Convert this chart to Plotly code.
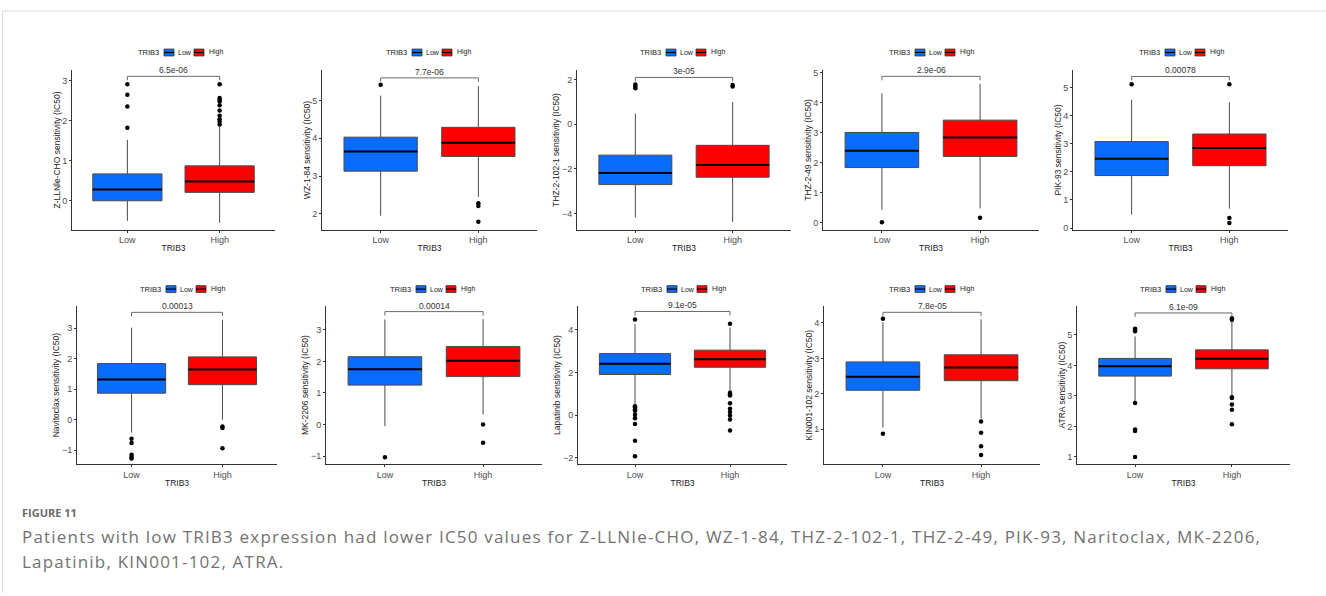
import plotly.graph_objects as go

W, H = 1326, 596

# ---------------- data ----------------
drugs = ["Z-LLNle-CHO", "WZ-1-84", "THZ-2-102-1", "THZ-2-49", "PIK-93",
         "Navitoclax", "MK-2206", "Lapatinib", "KIN001-102", "ATRA"]
p_labels = ["6.5e-06", "7.7e-06", "3e-05", "2.9e-06", "0.00078",
            "0.00013", "0.00014", "9.1e-05", "7.8e-05", "6.1e-09"]
groups = ["Low", "High"]

low_q1 = [0.00, 3.13, -2.70, 1.83, 1.87, 0.87, 1.25, 1.90, 2.10, 3.65]
low_median = [0.28, 3.65, -2.18, 2.39, 2.47, 1.32, 1.75, 2.40, 2.48, 3.97]
low_q3 = [0.67, 4.03, -1.38, 3.00, 3.08, 1.84, 2.15, 2.88, 2.90, 4.23]
low_lower = [-0.50, 1.95, -4.17, 0.42, 0.48, -0.42, -0.05, 0.48, 1.05, 2.80]
low_upper = [1.52, 5.13, 0.48, 4.30, 4.57, 3.02, 3.33, 4.26, 4.02, 4.95]
low_outliers = [
    [1.82, 2.35, 2.64, 2.90],
    [5.42],
    [1.62, 1.70, 1.78],
    [0.01],
    [5.12],
    [-0.62, -0.76, -1.15, -1.22, -1.27],
    [-1.04],
    [4.48, 0.42, 0.36, 0.28, 0.20, 0.02, -0.14, -0.42, -1.20, -1.92],
    [4.12, 0.87],
    [5.12, 5.17, 5.20, 2.77, 1.90, 1.85, 1.00],
]

high_q1 = [0.21, 3.52, -2.37, 2.20, 2.22, 1.15, 1.52, 2.24, 2.37, 3.89]
high_median = [0.48, 3.88, -1.82, 2.83, 2.85, 1.65, 2.02, 2.62, 2.74, 4.22]
high_q3 = [0.87, 4.29, -0.94, 3.41, 3.35, 2.06, 2.47, 3.04, 3.10, 4.51]
high_lower = [-0.55, 2.45, -4.37, 0.47, 0.69, 0.00, 0.32, 1.10, 1.30, 2.98]
high_upper = [1.85, 5.38, 1.00, 4.62, 4.48, 3.27, 3.34, 4.10, 4.10, 5.45]
high_outliers = [
    [1.90, 1.97, 2.03, 2.12, 2.25, 2.38, 2.48, 2.52, 2.56, 2.90],
    [2.28, 2.21, 1.79],
    [1.70, 1.76],
    [0.16],
    [5.12, 0.36, 0.18],
    [-0.22, -0.27, -0.93],
    [0.00, -0.58],
    [4.28, 1.05, 0.98, 0.92, 0.56, 0.30, 0.15, -0.02, -0.20, -0.72],
    [1.22, 0.90, 0.52, 0.27],
    [5.50, 5.55, 2.96, 2.93, 2.72, 2.55, 2.07],
]

bracket_y = [3.10, 5.60, 2.10, 4.87, 5.40, 3.52, 3.58, 4.85, 4.30, 5.72]

caption_title = "FIGURE 11"
caption_lines = [
    "Patients with low TRIB3 expression had lower IC50 values for Z-LLNIe-CHO, WZ-1-84, THZ-2-102-1, THZ-2-49, PIK-93, Naritoclax, MK-2206,",
    "Lapatinib, KIN001-102, ATRA.",
]

# ---------------- layout / style ----------------
y_ranges = [[-0.72, 3.25], [1.58, 5.80], [-4.72, 2.42], [-0.24, 5.07], [-0.06, 5.62],
            [-1.46, 3.73], [-1.26, 3.76], [-2.30, 5.11], [0.01, 4.48], [0.76, 5.95]]
y_dticks = [1, 1, 2, 1, 1, 1, 1, 2, 1, 1]

col_px = [(72, 275), (322, 537), (577, 791), (823, 1039), (1073, 1288),
          (77, 277), (326, 542), (578, 787), (824, 1040), (1077, 1290)]
row_px = [(68, 229), (306, 466)]
legend_cx = [180, 428, 682, 931, 1181, 182, 432, 683, 931, 1182]
legend_py = [50, 289]

COLORS = {"Low": "#0a6cff", "High": "#ff0000"}
FONT = "Liberation Sans, Arial, sans-serif"
BOX_W = 0.75

fig = go.Figure()
shapes = []
annotations = []


def px_x(p):
    return p / W


def px_y(p):
    return 1 - p / H


for i, drug in enumerate(drugs):
    xa = "x" if i == 0 else f"x{i + 1}"
    ya = "y" if i == 0 else f"y{i + 1}"
    stats = {
        "Low": (low_q1[i], low_median[i], low_q3[i], low_lower[i], low_upper[i], low_outliers[i]),
        "High": (high_q1[i], high_median[i], high_q3[i], high_lower[i], high_upper[i], high_outliers[i]),
    }
    for gi, g in enumerate(groups):
        q1, med, q3, lo, hi, outs = stats[g]
        fig.add_trace(go.Box(
            x=[gi], q1=[q1], median=[med], q3=[q3], lowerfence=[lo], upperfence=[hi],
            width=BOX_W, boxpoints=False, fillcolor=COLORS[g],
            line=dict(color="#4a4a4a", width=1), whiskerwidth=0,
            xaxis=xa, yaxis=ya, showlegend=False, name=g, hoverinfo="skip",
        ))
        fig.add_trace(go.Scatter(
            x=[gi - BOX_W / 2, gi + BOX_W / 2], y=[med, med], mode="lines",
            line=dict(color="black", width=2), xaxis=xa, yaxis=ya,
            showlegend=False, hoverinfo="skip",
        ))
        fig.add_trace(go.Scatter(
            x=[gi] * len(outs), y=outs, mode="markers",
            marker=dict(color="black", size=4.5), xaxis=xa, yaxis=ya,
            showlegend=False, hoverinfo="skip",
        ))
    # comparison bracket
    rng = y_ranges[i][1] - y_ranges[i][0]
    tip = 0.025 * rng
    by = bracket_y[i]
    fig.add_trace(go.Scatter(
        x=[0, 0, 1, 1], y=[by - tip, by, by, by - tip], mode="lines",
        line=dict(color="#6a6a6a", width=1), xaxis=xa, yaxis=ya,
        showlegend=False, hoverinfo="skip",
    ))
    annotations.append(dict(
        x=0.5, y=by, xref=xa, yref=ya, text=p_labels[i], showarrow=False,
        xanchor="center", yanchor="bottom", yshift=-1,
        font=dict(family=FONT, size=8.5, color="#333333"),
    ))

    row = 0 if i < 5 else 1
    x0, x1 = col_px[i]
    top, bot = row_px[row]
    ax_common = dict(
        showline=True, linecolor="#333333", linewidth=1, ticks="outside",
        tickcolor="#333333", ticklen=2, showgrid=False, zeroline=False,
        tickfont=dict(family=FONT, size=9, color="#4d4d4d"),
    )
    fig.layout[("xaxis" if i == 0 else f"xaxis{i + 1}")] = dict(
        domain=[px_x(x0), px_x(x1)], anchor=ya, range=[-0.6, 1.6],
        tickmode="array", tickvals=[0, 1], ticktext=groups,
        title=dict(text="TRIB3", standoff=0, font=dict(family=FONT, size=8.5, color="#222222")),
        **ax_common,
    )
    fig.layout[("yaxis" if i == 0 else f"yaxis{i + 1}")] = dict(
        domain=[px_y(bot), px_y(top)], anchor=xa, range=y_ranges[i],
        dtick=y_dticks[i], tick0=0,
        title=dict(text=f"{drug} sensitivity (IC50)", standoff=0,
                   font=dict(family=FONT, size=8.5, color="#222222")),
        **ax_common,
    )

    # legend drawn per panel
    ly = legend_py[row]
    left = legend_cx[i] - 44
    annotations.append(dict(x=px_x(left), y=px_y(ly), xref="paper", yref="paper",
                            text="TRIB3", showarrow=False, xanchor="left", yanchor="middle",
                            font=dict(family=FONT, size=7.5, color="#222222")))
    for k, (g, kx, tx) in enumerate([("Low", 28, 40), ("High", 58, 71)]):
        kx0 = left + kx
        shapes.append(dict(type="rect", xref="paper", yref="paper",
                           x0=px_x(kx0), x1=px_x(kx0 + 10), y0=px_y(ly + 3.5), y1=px_y(ly - 3.5),
                           fillcolor=COLORS[g], line=dict(color="#333333", width=0.8)))
        shapes.append(dict(type="line", xref="paper", yref="paper",
                           x0=px_x(kx0), x1=px_x(kx0 + 10), y0=px_y(ly), y1=px_y(ly),
                           line=dict(color="black", width=1.2)))
        annotations.append(dict(x=px_x(left + tx), y=px_y(ly), xref="paper", yref="paper",
                                text=g, showarrow=False, xanchor="left", yanchor="middle",
                                font=dict(family=FONT, size=7, color="#222222")))

# page frame lines
shapes.append(dict(type="line", xref="paper", yref="paper", x0=px_x(2), x1=1,
                   y0=px_y(8), y1=px_y(8), line=dict(color="#dcdcdc", width=1)))
shapes.append(dict(type="line", xref="paper", yref="paper", x0=px_x(2.5), x1=px_x(2.5),
                   y0=px_y(8), y1=0, line=dict(color="#dcdcdc", width=1)))

# caption
annotations.append(dict(x=px_x(20), y=px_y(515), xref="paper", yref="paper",
                        text="<b>" + caption_title + "</b>", showarrow=False,
                        xanchor="left", yanchor="middle",
                        font=dict(family="Open Sans", size=11, color="#6b6b6b")))
for j, line in enumerate(caption_lines):
    annotations.append(dict(x=px_x(20), y=px_y(539 + 25 * j), xref="paper", yref="paper",
                            text='<span style="letter-spacing:1.2px">' + line + "</span>",
                            showarrow=False, xanchor="left", yanchor="middle",
                            font=dict(family="Open Sans", size=17, color="#727272")))

fig.update_layout(
    width=W, height=H, margin=dict(l=0, r=0, t=0, b=0),
    paper_bgcolor="white", plot_bgcolor="white",
    shapes=shapes, annotations=annotations, showlegend=False,
)

fig.write_html("out.html", config={"displayModeBar": False},
               post_script="document.body.style.margin='0';document.body.style.overflow='hidden';")
